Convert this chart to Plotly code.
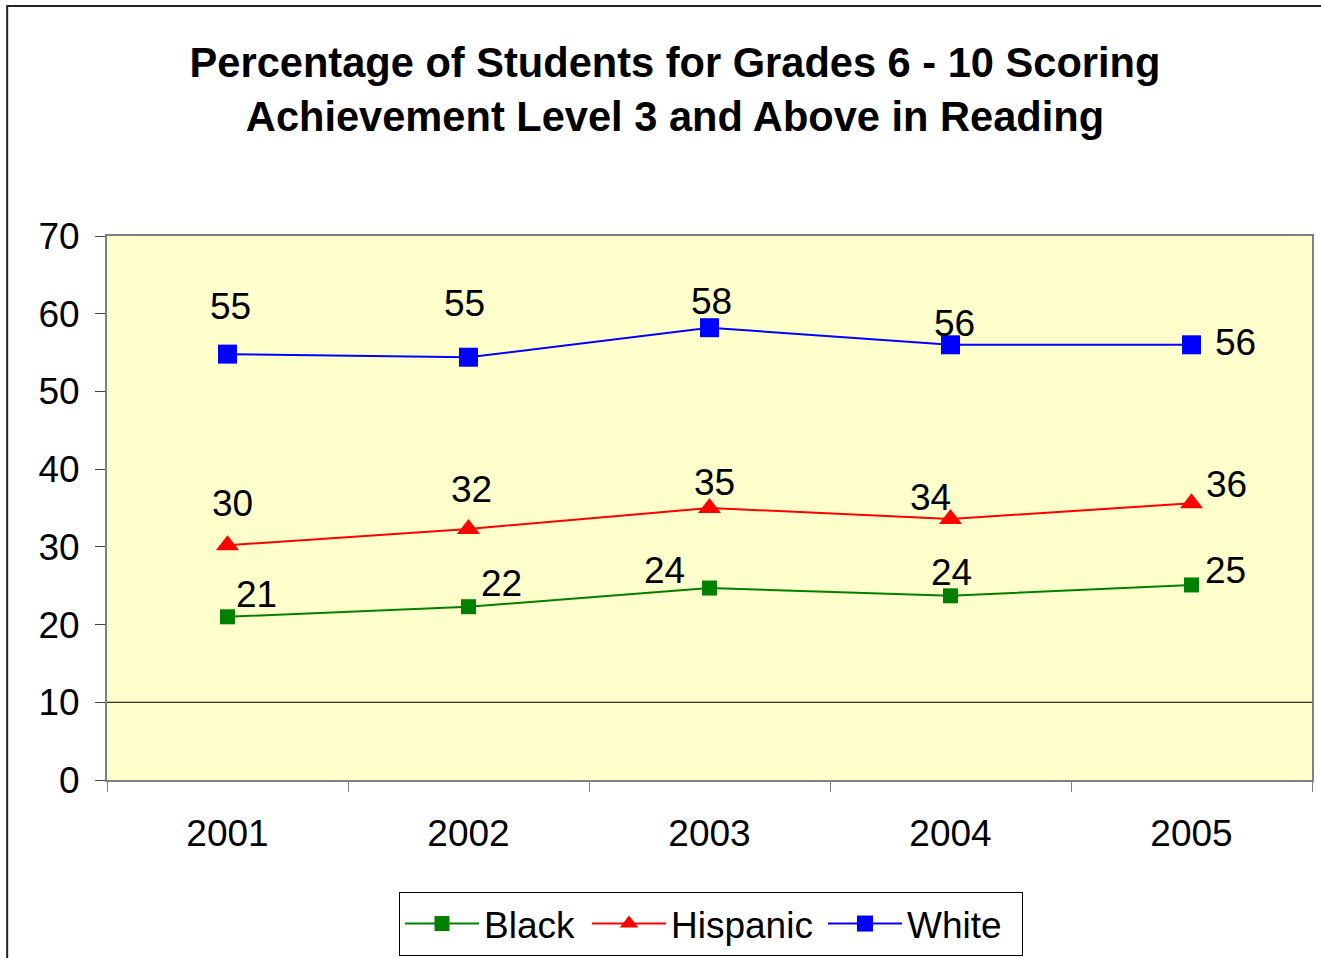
import plotly.graph_objects as go

years = ["2001", "2002", "2003", "2004", "2005"]
black = [21.0, 22.3, 24.7, 23.7, 25.1]
hispanic = [30.2, 32.3, 35.0, 33.6, 35.6]
white = [54.8, 54.4, 58.2, 56.0, 56.0]
black_labels = ["21", "22", "24", "24", "25"]
hispanic_labels = ["30", "32", "35", "34", "36"]
white_labels = ["55", "55", "58", "56", "56"]

# label pixel offsets (styling)
black_off = [(29, 22), (33, 23), (-45, 18), (1, 23), (34, 14)]
hisp_off = [(5, 42), (3, 39), (5, 26), (-20, 21), (35, 19)]
white_off = [(3, 48), (-4, 54), (2, 26), (4, 21), (44, 2)]

FONT = "Liberation Sans, Arial, sans-serif"
FS = 37

fig = go.Figure()
fig.add_trace(go.Scatter(x=years, y=black, name="Black", mode="lines+markers",
                         line=dict(color="#008000", width=2),
                         marker=dict(symbol="square", size=15, color="#008000"),
                         legendwidth=98))
fig.add_trace(go.Scatter(x=years, y=hispanic, name="Hispanic", mode="lines+markers",
                         line=dict(color="#FF0000", width=2),
                         marker=dict(symbol="triangle-up", size=20, color="#FF0000"),
                         legendwidth=147))
fig.add_trace(go.Scatter(x=years, y=white, name="White", mode="lines+markers",
                         line=dict(color="#0000FF", width=2),
                         marker=dict(symbol="square", size=19, color="#0000FF"),
                         legendwidth=110))

annotations = []
for vals, labs, offs in [(black, black_labels, black_off),
                         (hispanic, hispanic_labels, hisp_off),
                         (white, white_labels, white_off)]:
    for i, (v, t, (dx, dy)) in enumerate(zip(vals, labs, offs)):
        annotations.append(dict(x=i, y=v, xref="x", yref="y", text=t, showarrow=False,
                                xshift=dx, yshift=dy,
                                font=dict(family=FONT, size=FS, color="black"),
                                xanchor="center", yanchor="middle"))

fig.update_layout(
    width=1321, height=958,
    margin=dict(l=107, r=7, t=236, b=178),
    paper_bgcolor="white", plot_bgcolor="#FFFFCC",
    font=dict(family=FONT, size=FS, color="black"),
    title=dict(text="<b>Percentage of Students for Grades 6 - 10 Scoring<br>Achievement Level 3 and Above in Reading</b>",
               x=675/1321, xanchor="center", xref="container",
               y=1 - 77/958, yanchor="top", yref="container",
               font=dict(family=FONT, size=41.6, color="black")),
    showlegend=True,
    legend=dict(orientation="h", xref="container", yref="container",
                x=711/1321, xanchor="center", y=1 - 892/958, yanchor="top",
                bgcolor="white", bordercolor="black", borderwidth=1,
                font=dict(family=FONT, size=FS, color="black"),
                itemwidth=74),
    annotations=annotations,
)
fig.update_xaxes(type="category", range=[-0.5, 4.5], showgrid=False,
                 ticks="outside", ticklen=10, tickson="boundaries", tickcolor="#808080",
                 showline=True, linecolor="#808080", linewidth=2, mirror=True,
                 tickfont=dict(family=FONT, size=FS, color="black"), ticklabelstandoff=20)
fig.update_yaxes(range=[0, 70], dtick=10, showgrid=False, zeroline=False,
                 ticks="outside", ticklen=10, tickcolor="#404040",
                 showline=True, linecolor="#808080", linewidth=2, mirror=True,
                 tickfont=dict(family=FONT, size=FS, color="black"), ticklabelstandoff=8)

fig.add_shape(type="line", xref="paper", yref="y", x0=0, x1=1, y0=10, y1=10,
              line=dict(color="black", width=1), layer="below")
fig.add_shape(type="rect", xref="paper", yref="paper",
              x0=(7 - 107) / 1207, x1=2, y0=-1, y1=1 + (236 - 6) / 544,
              line=dict(color="#222222", width=2), layer="below")

fig.write_html("out.html", config={"displayModeBar": False},
               post_script="document.body.style.margin='0px';")
